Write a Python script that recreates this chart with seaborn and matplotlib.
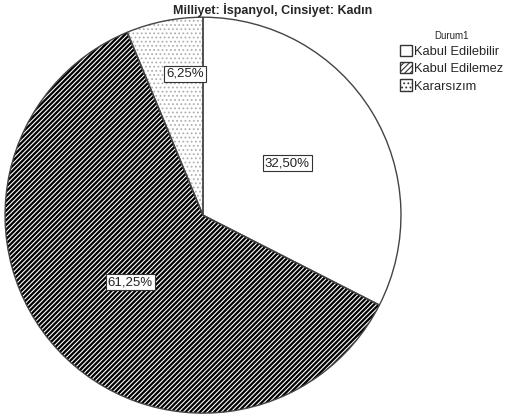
import numpy as np
import matplotlib
matplotlib.use("Agg")
import matplotlib.pyplot as plt
from matplotlib.patches import Patch
import seaborn as sns

categories = ["Kabul Edilebilir", "Kabul Edilemez", "Kararsızım"]
percents = [32.50, 61.25, 6.25]
title = "Milliyet: İspanyol, Cinsiyet: Kadın"
legend_title = "Durum1"

sns.set_style("white")
plt.rcParams["font.family"] = ["Liberation Sans", "DejaVu Sans"]
plt.rcParams["hatch.linewidth"] = 0.8

faces = ["white", "black", "white"]
hatches = [None, "///////", "...."]
hatch_cols = ["white", "white", "#b0b0b0"]

fig = plt.figure(figsize=(5.05, 4.17), dpi=100)
ax = fig.add_axes([0.010, 0.009, 0.784, 0.950])

wedges, texts, autotexts = ax.pie(
    percents, startangle=90, counterclock=False, colors=faces,
    autopct=lambda p: f"{p:.2f}%".replace(".", ","), pctdistance=0.5,
    wedgeprops=dict(linewidth=0), radius=1,
)
for w, h, c in zip(wedges, hatches, hatch_cols):
    w.set_edgecolor(c)
    if h:
        w.set_hatch(h)

# outlines
ax.pie(percents, startangle=90, counterclock=False,
       wedgeprops=dict(fill=False, edgecolor="#444444", linewidth=1.0), radius=1)

for i, t in enumerate(autotexts):
    t.set_fontsize(9.5)
    t.set_color("#222222")
    t.set_bbox(dict(boxstyle="square,pad=0.15", facecolor="white",
                    edgecolor="#333333", linewidth=0.8))
    if i == 2:
        w = wedges[2]
        ang = np.deg2rad((w.theta1 + w.theta2) / 2 - 4)
        t.set_position((0.72 * np.cos(ang), 0.72 * np.sin(ang)))

ax.set_xlim(-1.0, 1.0)
ax.set_ylim(-1.0, 1.0)
ax.set_aspect("equal", adjustable="box")
ax.axis("off")

fig.text(0.54, 0.976, title, ha="center", va="center",
         fontsize=9, fontweight="bold")

handles = [Patch(facecolor=f, edgecolor="#333333", hatch=h, label=c)
           for f, h, c in zip(["white", "white", "white"], ["", "//////", "...."], categories)]
leg = fig.legend(handles=handles, title=legend_title, loc="upper left",
                 bbox_to_anchor=(0.777, 0.945), frameon=False, fontsize=9.3,
                 title_fontsize=7, handlelength=0.95, handleheight=0.95,
                 handletextpad=0.1, labelspacing=0.33, borderpad=0.1)

fig.savefig("out.png", dpi=100)
